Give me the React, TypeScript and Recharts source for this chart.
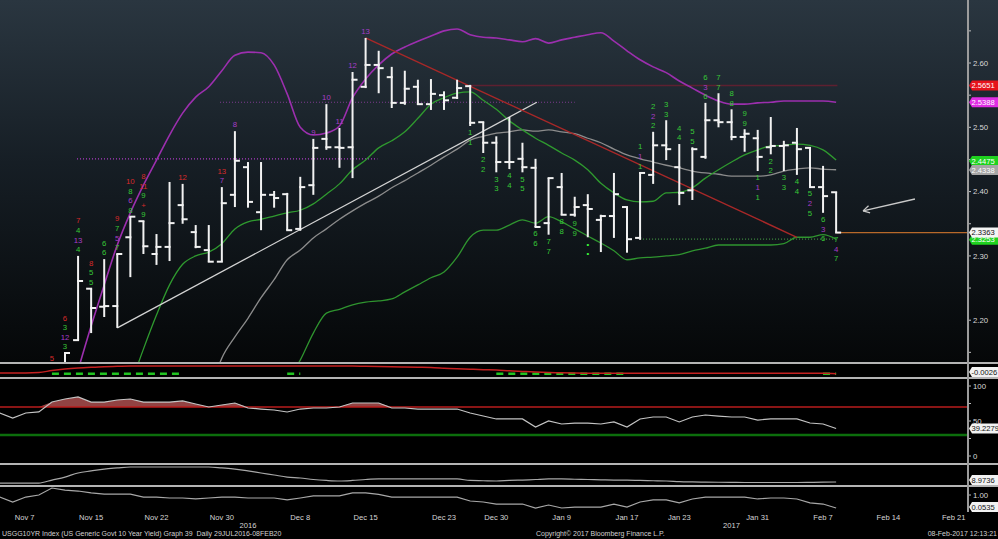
import React from 'react';
import { ComposedChart, Line, Scatter, XAxis, YAxis, ReferenceLine, ErrorBar, Area } from 'recharts';

// ---------------- data (x = trading-day index, 0 = Nov 11 2016) ----------------
const FIRST_K = -5;
const LAST_K = 59;
const X_DOMAIN: [number, number] = [-4.973, 69.09];

const barStartK = -1;
const barOpen = [2.05, 2.10, 2.169, 2.249, 2.221, 2.222, 2.329, 2.354, 2.303, 2.314, 2.379, 2.337, 2.309, 2.291, 2.395, 2.438, 2.368, 2.395, 2.396, 2.342, 2.410, 2.482, 2.469, 2.469, 2.563, 2.597, 2.578, 2.538, 2.563, 2.536, 2.550, 2.546, 2.564, 2.508, 2.476, 2.446, 2.451, 2.437, 2.351, 2.407, 2.364, 2.379, 2.356, 2.362, 2.376, 2.328, 2.426, 2.472, 2.438, 2.402, 2.454, 2.511, 2.508, 2.485, 2.483, 2.469, 2.471, 2.476, 2.468, 2.407, 2.399];
const barHigh = [2.131, 2.149, 2.300, 2.249, 2.295, 2.303, 2.361, 2.354, 2.334, 2.415, 2.412, 2.348, 2.348, 2.407, 2.494, 2.446, 2.446, 2.401, 2.398, 2.423, 2.482, 2.536, 2.499, 2.586, 2.639, 2.619, 2.594, 2.588, 2.574, 2.575, 2.556, 2.574, 2.566, 2.508, 2.486, 2.516, 2.476, 2.451, 2.421, 2.429, 2.392, 2.396, 2.364, 2.429, 2.376, 2.430, 2.493, 2.511, 2.474, 2.469, 2.538, 2.553, 2.528, 2.497, 2.496, 2.516, 2.479, 2.499, 2.468, 2.440, 2.399];
const barLow = [2.03, 2.09, 2.169, 2.180, 2.205, 2.188, 2.267, 2.303, 2.286, 2.292, 2.350, 2.312, 2.291, 2.291, 2.376, 2.375, 2.340, 2.375, 2.340, 2.339, 2.395, 2.465, 2.437, 2.421, 2.561, 2.553, 2.530, 2.535, 2.535, 2.527, 2.527, 2.544, 2.502, 2.460, 2.430, 2.435, 2.430, 2.345, 2.333, 2.364, 2.361, 2.329, 2.306, 2.328, 2.305, 2.325, 2.412, 2.449, 2.379, 2.387, 2.451, 2.500, 2.480, 2.462, 2.432, 2.458, 2.432, 2.426, 2.407, 2.367, 2.336];
const barClose = [2.12, 2.149, 2.261, 2.219, 2.222, 2.303, 2.361, 2.315, 2.314, 2.351, 2.357, 2.314, 2.291, 2.382, 2.448, 2.384, 2.395, 2.390, 2.340, 2.407, 2.468, 2.469, 2.468, 2.574, 2.597, 2.592, 2.538, 2.560, 2.536, 2.552, 2.542, 2.561, 2.507, 2.476, 2.446, 2.446, 2.438, 2.345, 2.421, 2.364, 2.376, 2.373, 2.362, 2.396, 2.326, 2.429, 2.472, 2.466, 2.398, 2.466, 2.511, 2.508, 2.485, 2.490, 2.454, 2.471, 2.472, 2.466, 2.407, 2.393, 2.3363];

const upperBandStartK = 0;
const upperBand = [2.060, 2.123, 2.191, 2.255, 2.317, 2.367, 2.410, 2.449, 2.488, 2.522, 2.547, 2.563, 2.588, 2.612, 2.617, 2.616, 2.597, 2.552, 2.500, 2.488, 2.491, 2.502, 2.546, 2.575, 2.597, 2.614, 2.625, 2.634, 2.642, 2.650, 2.653, 2.644, 2.640, 2.639, 2.636, 2.633, 2.638, 2.631, 2.636, 2.640, 2.644, 2.647, 2.634, 2.619, 2.605, 2.594, 2.585, 2.572, 2.561, 2.550, 2.541, 2.536, 2.536, 2.538, 2.539, 2.541, 2.541, 2.541, 2.541, 2.539];
const midLineStartK = 5;
const midLine = [2.098, 2.155, 2.208, 2.255, 2.287, 2.300, 2.306, 2.319, 2.342, 2.353, 2.357, 2.362, 2.367, 2.371, 2.381, 2.396, 2.412, 2.434, 2.449, 2.468, 2.479, 2.493, 2.514, 2.536, 2.546, 2.553, 2.555, 2.542, 2.528, 2.510, 2.496, 2.483, 2.472, 2.460, 2.449, 2.434, 2.413, 2.398, 2.387, 2.384, 2.385, 2.398, 2.399, 2.406, 2.421, 2.434, 2.446, 2.457, 2.465, 2.471, 2.472, 2.474, 2.472, 2.465, 2.449];
const grayMaStartK = 11;
const grayMa = [2.084, 2.141, 2.174, 2.203, 2.235, 2.263, 2.294, 2.309, 2.328, 2.342, 2.357, 2.370, 2.382, 2.393, 2.406, 2.417, 2.429, 2.441, 2.454, 2.466, 2.480, 2.486, 2.491, 2.493, 2.496, 2.494, 2.496, 2.493, 2.490, 2.483, 2.476, 2.466, 2.457, 2.451, 2.446, 2.441, 2.437, 2.432, 2.429, 2.427, 2.424, 2.424, 2.424, 2.426, 2.432, 2.435, 2.437, 2.435, 2.434];
const lowerBandStartK = 17;
const lowerBand = [2.107, 2.138, 2.180, 2.211, 2.217, 2.224, 2.228, 2.230, 2.233, 2.244, 2.255, 2.266, 2.275, 2.298, 2.329, 2.340, 2.340, 2.348, 2.356, 2.351, 2.361, 2.353, 2.342, 2.331, 2.320, 2.308, 2.294, 2.297, 2.298, 2.300, 2.302, 2.308, 2.312, 2.317, 2.317, 2.317, 2.317, 2.317, 2.319, 2.329, 2.329, 2.333, 2.326];

// indicator panels, k = -5 .. 59
const macdLine = [0.002, 0.002, 0.002, 0.005, 0.018, 0.028, 0.035, 0.040, 0.044, 0.046,
  0.048, 0.048, 0.048, 0.048, 0.048, 0.048, 0.048, 0.048, 0.048, 0.048, 0.048, 0.048, 0.048, 0.048, 0.048, 0.048, 0.048, 0.048,
  0.046, 0.045, 0.044, 0.042, 0.040, 0.038, 0.034, 0.030, 0.027, 0.024, 0.022, 0.016, 0.012, 0.008, 0.005, 0.003, 0.001,
  0, 0, 0, 0, 0, 0, 0, 0, 0, 0, 0, 0, 0, 0, 0, 0, 0, 0, 0, -0.0026];
const S = -0.003;
const macdSignal = [null, null, null, null, S, S, S, S, S, S, S, S, S, S, S,
  null, null, null, null, null, null, null, S, S,
  null, null, null, null, null, null, null, null, null, null, null, null, null, null,
  S, S, S, S, S, S, S, S, S, S, S,
  null, null, null, null, null, null, null, null, null, null, null, null, null, null, S, S];
const rsi = [61.4, 54.3, 61.4, 62.9, 77.1, 81.4, 84.3, 77.1, 77.1, 80, 81.4, 77.1, 77.1, 77.1, 78.6, 74.3, 70, 72.9, 75.7, 68.6, 67.1, 65.7, 62.9, 67.1, 68.6, 68.6, 70, 75.7, 75.7, 75.7, 68.6, 68.6, 67.1, 67.1, 67.1, 67.1, 61.4, 57.1, 52.9, 52.9, 52.9, 41.4, 50, 45.7, 47.1, 47.1, 45.7, 48.6, 41.4, 52.9, 55.7, 55.7, 48.6, 55.7, 58.6, 57.1, 55.7, 55.7, 51.4, 52.9, 52.9, 52.9, 47.1, 45.7, 39.2279];
const trendStrength = [8.2, 8.2, 8.2, 8.2, 10.4, 12.6, 15.6, 17.1, 18.5, 19.3, 20.0, 20.0, 20.0, 20.0, 20.0, 20.0, 20.0, 19.3, 18.5, 17.1, 15.6, 14.1, 12.6, 11.9, 10.8, 10.1, 9.7, 10.1, 10.8, 11.2, 11.2, 11.2, 11.2, 11.2, 11.2, 11.2, 10.1, 9.9, 9.7, 10.1, 10.4, 10.8, 11.2, 11.2, 11.0, 10.8, 10.6, 10.4, 10.4, 10.1, 9.9, 9.7, 9.3, 9.0, 8.9, 8.8, 8.7, 8.6, 8.6, 8.6, 8.6, 8.6, 8.7, 8.85, 8.9736];
const lowerOsc = [0.85, 0.49, 0.85, 1.0, 1.51, 1.36, 1.29, 1.15, 1.07, 1.07, 1.07, 0.85, 0.85, 0.78, 0.78, 0.71, 0.78, 0.85, 0.85, 0.78, 0.78, 0.78, 0.64, 0.78, 0.93, 0.93, 0.93, 1.15, 1.15, 1.04, 0.85, 0.85, 0.85, 0.85, 0.85, 0.85, 0.56, 0.49, 0.34, 0.34, 0.34, 0.05, 0.27, 0.05, 0.12, 0.12, 0.12, 0.34, 0.12, 0.49, 0.64, 0.64, 0.42, 0.71, 0.85, 0.85, 0.85, 0.85, 0.71, 0.78, 0.78, 0.71, 0.42, 0.34, 0.0535];

// TD sequential counts (first letter = kind: g setup, p/r countdown, d dot)
const tdAbove = [
  { k: -1, m: ['r5'] },
  { k: 0, m: ['g3', 'p12', 'g3', 'r6'] },
  { k: 1, m: ['g4', 'p13', 'g4', 'r7'] },
  { k: 2, m: ['g5', 'g5', 'r8'] },
  { k: 3, m: ['g6', 'g6'] },
  { k: 4, m: ['g7', 'p5', 'g7', 'r9'] },
  { k: 5, m: ['g8', 'p6', 'g8', 'r10'] },
  { k: 6, m: ['g9', 'r+', 'g9', 'r11', 'r8'] },
  { k: 9, m: ['r12'] },
  { k: 12, m: ['p7', 'r13'] },
  { k: 13, m: ['p8'] },
  { k: 19, m: ['p9'] },
  { k: 20, m: ['p10'] },
  { k: 21, m: ['p11'] },
  { k: 22, m: ['p12'] },
  { k: 23, m: ['p13'] },
  { k: 44, m: ['g1', 'p1', 'g1'] },
  { k: 45, m: ['g2', 'p2', 'g2'] },
  { k: 46, m: ['g3', 'g3'] },
  { k: 47, m: ['g4', 'g4'] },
  { k: 48, m: ['g5', 'g5'] },
  { k: 49, m: ['g6', 'p3', 'g6'] },
  { k: 50, m: ['g7', 'g7'] },
  { k: 51, m: ['g8', 'g8'] },
  { k: 52, m: ['g9', 'g9'] },
];
const tdBelow = [
  { k: 31, m: ['g1', 'g1'] },
  { k: 32, m: ['g2', 'g2'] },
  { k: 33, m: ['g3', 'g3'] },
  { k: 34, m: ['g4', 'g4'] },
  { k: 35, m: ['g5', 'g5'] },
  { k: 36, m: ['g6', 'g6'] },
  { k: 37, m: ['g7', 'g7'] },
  { k: 38, m: ['g8', 'g8'] },
  { k: 39, m: ['g9', 'g9'] },
  { k: 40, m: ['d•', 'd•'] },
  { k: 53, m: ['g1', 'p1', 'g1'] },
  { k: 54, m: ['g2', 'g2'] },
  { k: 55, m: ['g3', 'g3'] },
  { k: 56, m: ['g4', 'g4'] },
  { k: 57, m: ['g5', 'p2', 'g5'] },
  { k: 58, m: ['g6', 'p3', 'g6'] },
  { k: 59, m: ['g7', 'p4', 'g7'] },
];

// drawn study lines (x = k, y = yield)
const whiteTrend = [[4, 2.188], [36.1, 2.539]];
const redTrend = [[23, 2.639], [56, 2.329]];
const resistanceLevel = [[31.06, 2.5651], [59.1, 2.5651]];
const tdstUpper = [[11.86, 2.539], [39.0, 2.539]];
const tdstMid = [[0.92, 2.451], [23.9, 2.451]];
const tdstLower = [[44, 2.326], [59.1, 2.326]];
const lastPriceLine = [[59, 2.3363], [69.09, 2.3363]];
const arrowShaft = [[65.03, 2.3885], [61.06, 2.370]];
const arrowHeadA = [[61.06, 2.370], [61.6, 2.367]];
const arrowHeadB = [[61.06, 2.370], [61.48, 2.378]];

// axes
const dateTicks = [-4, 2, 7, 12, 18, 23, 29, 33, 38, 43, 47, 53, 58, 63, 68];
const dateLabels = ['Nov 7', 'Nov 15', 'Nov 22', 'Nov 30', 'Dec 8', 'Dec 15', 'Dec 23', 'Dec 30', 'Jan 9', 'Jan 17', 'Jan 23', 'Jan 31', 'Feb 7', 'Feb 14', 'Feb 21'];
const yearTicks = [14, 51];
const yearLabels = ['2016', '2017'];
const priceMajorTicks = [2.2, 2.3, 2.4, 2.5, 2.6];
const priceMinorTicks = [2.15, 2.25, 2.35, 2.45, 2.55, 2.65];
const priceTags = [2.5651, 2.5388, 2.4475, 2.4338, 2.3253, 2.3363];
const rsiMajorTicks = [0, 50, 100];
const rsiMinorTicks = [25, 75];
const rsiTags = [39.2279];
const macdTags = [-0.0026];
const trendTags = [8.9736];
const oscMajorTicks = [1.0];
const oscTags = [0.0535];

const footerLeft = 'USGG10YR Index (US Generic Govt 10 Year Yield) Graph 39  Daily 29JUL2016-08FEB20';
const footerMid = 'Copyright\u00a9 2017 Bloomberg Finance L.P.';
const footerRight = '08-Feb-2017 12:13:21';

// ---------------- derived tables ----------------
const pick = (arr: number[], start: number, k: number) => {
  const i = k - start;
  return i >= 0 && i < arr.length ? arr[i] : null;
};
const rows: any[] = [];
for (let k = FIRST_K; k <= LAST_K; k++) {
  const i = k - FIRST_K;
  const r = rsi[i];
  rows.push({
    k,
    upper: pick(upperBand, upperBandStartK, k),
    mid: pick(midLine, midLineStartK, k),
    gray: pick(grayMa, grayMaStartK, k),
    lower: pick(lowerBand, lowerBandStartK, k),
    macd: macdLine[i],
    signal: macdSignal[i],
    rsi: r,
    rsiBand: [70, Math.max(70, r)],
    trend: trendStrength[i],
    osc: lowerOsc[i],
  });
}
const ohlcRows = barOpen.map((o, i) => ({
  k: barStartK + i,
  o,
  c: barClose[i],
  err: [barClose[i] - barLow[i], barHigh[i] - barClose[i]],
}));
const tdAboveRows = tdAbove.map((d) => ({ k: d.k, y: barHigh[d.k - barStartK], m: d.m }));
const tdBelowRows = tdBelow.map((d) => ({ k: d.k, y: barLow[d.k - barStartK], m: d.m }));

// ---------------- styling helpers ----------------
const FONT = "'Liberation Sans', Arial, sans-serif";
const BAR_COLOR = '#f2f2f2';
const TD_COLORS: Record<string, string> = { g: '#37c837', p: '#a63dc6', r: '#d82a2a', d: '#3cff3c' };
const seg = (p: number[][]) => [{ x: p[0][0], y: p[0][1] }, { x: p[1][0], y: p[1][1] }];

type TagStyle = { bg: string; fg: string };
const priceTagStyles: TagStyle[] = [
  { bg: '#e6141c', fg: '#ffffff' },
  { bg: '#e02ee4', fg: '#ffffff' },
  { bg: '#1fd21f', fg: '#ffffff' },
  { bg: '#a6a6a6', fg: '#ffffff' },
  { bg: '#1fd21f', fg: '#ffffff' },
  { bg: '#f4f4f4', fg: '#111111' },
];
const whiteTag: TagStyle = { bg: '#f2f2f2', fg: '#111111' };

const makeAxisTick = (majors: number[], decimals: number, tagVals: number[], tagStyles: TagStyle[], maxTagY = 10000) => (props: any) => {
  const { x, y, payload } = props;
  const v = Number(payload.value);
  const ti = tagVals.indexOf(v);
  if (ti >= 0) {
    const s = tagStyles[ti];
    const ty = Math.min(y, maxTagY);
    return (
      <g>
        <path d={`M${x + 1},${ty} L${x + 4},${ty - 5} L${x + 31},${ty - 5} L${x + 31},${ty + 5} L${x + 4},${ty + 5} Z`} fill={s.bg} />
        <text x={x + 3.5} y={ty} dy="0.36em" fontSize={7.6} fill={s.fg} fontFamily={FONT}>{String(v)}</text>
      </g>
    );
  }
  const major = majors.indexOf(v) >= 0;
  return (
    <g>
      <line x1={x} x2={x + 3} y1={y} y2={y} stroke="#bdbdbd" strokeWidth={1} />
      {major ? (
        <text x={x + 5} y={y} dy="0.36em" fontSize={7.8} fill="#d8d8d8" fontFamily={FONT}>{v.toFixed(decimals)}</text>
      ) : null}
    </g>
  );
};

const DateTick = (props: any) => {
  const { x, y, payload } = props;
  const v = Number(payload.value);
  const di = dateTicks.indexOf(v);
  if (di >= 0) {
    return (
      <text x={x < 20 ? x + 2 : x} y={y + 8} textAnchor={x < 20 ? 'start' : 'middle'} fontSize={7.6} fill="#d6d6d6" fontFamily={FONT}>
        {dateLabels[di]}
      </text>
    );
  }
  const yi = yearTicks.indexOf(v);
  if (yi >= 0) {
    return (
      <text x={x} y={y + 16} textAnchor="middle" fontSize={7.6} fill="#d6d6d6" fontFamily={FONT}>{yearLabels[yi]}</text>
    );
  }
  return <g />;
};

const CloseTick = (props: any) => {
  const { cx, cy } = props;
  return <line x1={cx - 1} x2={cx + 5} y1={cy} y2={cy} stroke={BAR_COLOR} strokeWidth={2} />;
};
const OpenTick = (props: any) => {
  const { cx, cy } = props;
  return <line x1={cx - 5} x2={cx + 1} y1={cy} y2={cy} stroke={BAR_COLOR} strokeWidth={2} />;
};
const makeLabelStack = (dir: number) => (props: any) => {
  const { cx, cy, payload } = props;
  return (
    <g>
      {payload.m.map((s: string, i: number) => (
        <text key={i} x={cx} y={cy + dir * (6.5 + i * 9.6)} dy="0.36em" textAnchor="middle" fontSize={7.8}
          fill={TD_COLORS[s[0]]} fontFamily={FONT}>{s.slice(1)}</text>
      ))}
    </g>
  );
};
const AboveLabels = makeLabelStack(-1);
const BelowLabels = makeLabelStack(1);

const axisLine = { stroke: '#9c9c9c', strokeWidth: 1.5 };
const noMargin = { top: 0, right: 0, bottom: 0, left: 0 };
const hiddenX = <XAxis type="number" dataKey="k" domain={X_DOMAIN} allowDataOverflow hide />;

const abs = (top: number, height: number): React.CSSProperties => ({ position: 'absolute', left: 0, top, width: 998, height });
const sepBar = (top: number) => <div style={{ position: 'absolute', left: 0, top, width: 998, height: 2, background: '#b4b4b4' }} />;
const footStyle: React.CSSProperties = { position: 'absolute', top: 529, fontSize: 7, lineHeight: '10px', color: '#d2d2d2', whiteSpace: 'pre' };

export default function App() {
  return (
    <div style={{ position: 'absolute', left: 0, top: 0, width: 998, height: 539, background: '#000', overflow: 'hidden', fontFamily: FONT }}>
      <div style={{ ...abs(0, 362), background: 'linear-gradient(180deg, #2a3640 0%, #161e25 45%, #050708 100%)' }} />

      {/* main price panel */}
      <div style={abs(0, 362)}>
        <ComposedChart width={998} height={362} data={rows} margin={noMargin}>
          {hiddenX}
          <YAxis orientation="right" width={30} domain={[2.135, 2.698]} allowDataOverflow
            ticks={[...priceMinorTicks, ...priceMajorTicks, ...priceTags]} interval={0}
            tickLine={false} tickSize={0} tickMargin={0} axisLine={axisLine}
            tick={makeAxisTick(priceMajorTicks, 2, priceTags, priceTagStyles)} />
          <ReferenceLine segment={seg(tdstMid)} stroke="#b23cc8" strokeWidth={1.3} strokeDasharray="1 2" />
          <ReferenceLine segment={seg(tdstUpper)} stroke="#7d3a90" strokeWidth={1.2} strokeDasharray="1 2" />
          <ReferenceLine segment={seg(tdstLower)} stroke="#3f8f3f" strokeWidth={1.2} strokeDasharray="1 2" />
          <ReferenceLine segment={seg(resistanceLevel)} stroke="#5e2030" strokeWidth={1.5} />
          <ReferenceLine segment={seg(lastPriceLine)} stroke="#b8692a" strokeWidth={1.3} />
          <Line type="monotone" dataKey="lower" stroke="#2f942f" strokeWidth={1.3} dot={false} activeDot={false} isAnimationActive={false} />
          <Line type="monotone" dataKey="gray" stroke="#8c8c8c" strokeWidth={1.3} dot={false} activeDot={false} isAnimationActive={false} />
          <Line type="monotone" dataKey="mid" stroke="#2f9a2f" strokeWidth={1.3} dot={false} activeDot={false} isAnimationActive={false} />
          <Line type="monotone" dataKey="upper" stroke="#9c2fae" strokeWidth={1.6} dot={false} activeDot={false} isAnimationActive={false} />
          <ReferenceLine segment={seg(whiteTrend)} stroke="#d4d4d4" strokeWidth={1.3} />
          <ReferenceLine segment={seg(redTrend)} stroke="#a82828" strokeWidth={1.4} />
          <ReferenceLine segment={seg(arrowShaft)} stroke="#c9c9c9" strokeWidth={1.3} />
          <ReferenceLine segment={seg(arrowHeadA)} stroke="#c9c9c9" strokeWidth={1.3} />
          <ReferenceLine segment={seg(arrowHeadB)} stroke="#c9c9c9" strokeWidth={1.3} />
          <Scatter data={ohlcRows} dataKey="c" shape={CloseTick} isAnimationActive={false}>
            <ErrorBar dataKey="err" direction="y" width={0} stroke={BAR_COLOR} strokeWidth={2} isAnimationActive={false} />
          </Scatter>
          <Scatter data={ohlcRows} dataKey="o" shape={OpenTick} isAnimationActive={false} />
          <Scatter data={tdAboveRows} dataKey="y" shape={AboveLabels} isAnimationActive={false} />
          <Scatter data={tdBelowRows} dataKey="y" shape={BelowLabels} isAnimationActive={false} />
        </ComposedChart>
      </div>

      {/* MACD panel */}
      <div style={abs(364, 13)}>
        <ComposedChart width={998} height={13} data={rows} margin={noMargin}>
          {hiddenX}
          <YAxis orientation="right" width={30} domain={[-0.025, 0.0617]} allowDataOverflow ticks={macdTags} interval={0}
            tickLine={false} tickSize={0} tickMargin={0} axisLine={axisLine}
            tick={makeAxisTick([], 2, macdTags, [whiteTag], 8)} />
          <Line type="monotone" dataKey="signal" stroke="#22c422" strokeWidth={2.5} strokeDasharray="7 5" dot={false} activeDot={false} isAnimationActive={false} />
          <Line type="monotone" dataKey="macd" stroke="#c42020" strokeWidth={1.5} dot={false} activeDot={false} isAnimationActive={false} />
        </ComposedChart>
      </div>

      {/* RSI panel */}
      <div style={abs(379, 84)}>
        <ComposedChart width={998} height={84} data={rows} margin={noMargin}>
          {hiddenX}
          <YAxis orientation="right" width={30} domain={[-10, 110]} allowDataOverflow
            ticks={[...rsiMinorTicks, ...rsiMajorTicks, ...rsiTags]} interval={0}
            tickLine={false} tickSize={0} tickMargin={0} axisLine={axisLine}
            tick={makeAxisTick(rsiMajorTicks, 0, rsiTags, [whiteTag])} />
          <ReferenceLine y={30} stroke="#0c6e0c" strokeWidth={2.5} />
          <Area type="linear" dataKey="rsiBand" fill="#a24a4a" fillOpacity={0.9} stroke="none" isAnimationActive={false} activeDot={false} />
          <ReferenceLine y={70} stroke="#b81c1c" strokeWidth={1.5} />
          <Line type="linear" dataKey="rsi" stroke="#c4c4c4" strokeWidth={1.2} dot={false} activeDot={false} isAnimationActive={false} />
        </ComposedChart>
      </div>

      {/* trend strength panel */}
      <div style={abs(465, 20)}>
        <ComposedChart width={998} height={20} data={rows} margin={noMargin}>
          {hiddenX}
          <YAxis orientation="right" width={30} domain={[6.76, 21.47]} allowDataOverflow ticks={trendTags} interval={0}
            tickLine={false} tickSize={0} tickMargin={0} axisLine={axisLine}
            tick={makeAxisTick([], 2, trendTags, [whiteTag], 15)} />
          <Line type="monotone" dataKey="trend" stroke="#a8a8a8" strokeWidth={1.2} dot={false} activeDot={false} isAnimationActive={false} />
        </ComposedChart>
      </div>

      {/* lower oscillator panel + date axis */}
      <div style={abs(487, 52)}>
        <ComposedChart width={998} height={52} data={rows} margin={noMargin}>
          <XAxis type="number" dataKey="k" domain={X_DOMAIN} allowDataOverflow height={27}
            ticks={[...dateTicks, ...yearTicks]} interval={0} tickLine={false} tickSize={0} tickMargin={0}
            axisLine={false} tick={DateTick} />
          <YAxis orientation="right" width={30} domain={[-0.241, 1.584]} allowDataOverflow
            ticks={[...oscMajorTicks, ...oscTags]} interval={0}
            tickLine={false} tickSize={0} tickMargin={0} axisLine={axisLine}
            tick={makeAxisTick(oscMajorTicks, 2, oscTags, [whiteTag], 20)} />
          <Line type="linear" dataKey="osc" stroke="#a8a8a8" strokeWidth={1.2} dot={false} activeDot={false} isAnimationActive={false} />
        </ComposedChart>
      </div>

      {sepBar(362)}
      {sepBar(377)}
      {sepBar(463)}
      {sepBar(485)}
      <div style={{ position: 'absolute', left: 967, top: 0, width: 1.5, height: 512, background: '#9c9c9c' }} />

      <div style={{ ...footStyle, left: 2 }}>{footerLeft}</div>
      <div style={{ ...footStyle, left: 536 }}>{footerMid}</div>
      <div style={{ ...footStyle, right: 1 }}>{footerRight}</div>
    </div>
  );
}
